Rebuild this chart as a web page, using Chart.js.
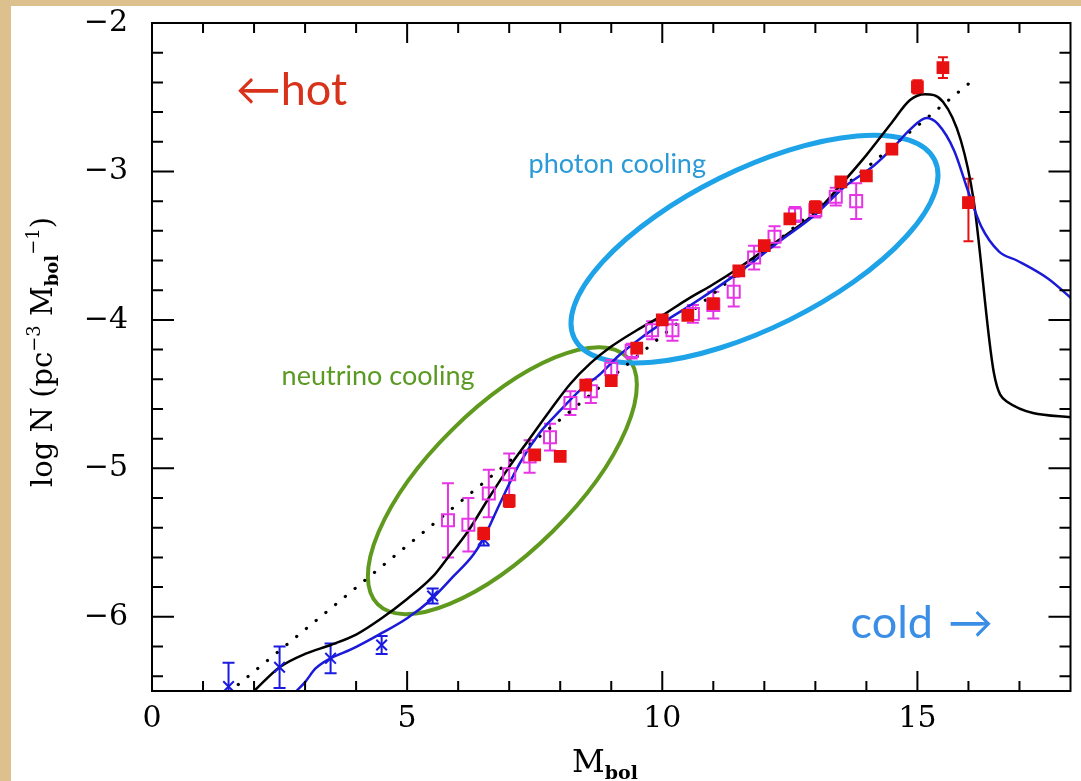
<!DOCTYPE html>
<html><head><meta charset="utf-8">
<script src="https://cdn.jsdelivr.net/npm/chart.js@4.4.0/dist/chart.umd.min.js"></script>
<style>
html,body{margin:0;padding:0;background:#dcc08e;width:1081px;height:781px;overflow:hidden;}
#wrap{position:absolute;left:11px;top:6px;width:1070px;height:775px;background:#fff;}
canvas{display:block;}
</style></head><body>
<div id="wrap"><canvas id="c"></canvas></div>
<script>
// ---- data (M_bol, log N) ----
const redM     = [6.5,7.0,7.5,8.0,8.5,9.0,9.5,10.0,10.5,11.0,11.5,12.0,12.5,13.0,13.5,14.0,14.5,15.0,15.5,16.0];
const redLogN  = [-5.44,-5.22,-4.91,-4.92,-4.44,-4.41,-4.19,-4.00,-3.97,-3.89,-3.67,-3.50,-3.32,-3.24,-3.07,-3.03,-2.85,-2.43,-2.30,-3.21];
const redErrLo = [0.04,0.04,0.03,0.02,0.03,0.03,0.03,0.03,0.03,0.03,0.03,0.03,0.03,0.04,0.03,0.03,0.03,0.045,0.07,0.26];
const redErrHi = [0.04,0.04,0.03,0.02,0.03,0.03,0.03,0.03,0.03,0.03,0.03,0.03,0.03,0.04,0.03,0.03,0.03,0.045,0.07,0.16];

const magM    = [5.8,6.2,6.6,7.0,7.4,7.8,8.2,8.6,9.0,9.4,9.8,10.2,10.6,11.0,11.4,11.8,12.2,12.6,13.0,13.4,13.8];
const magLogN = [-5.35,-5.38,-5.17,-5.04,-4.92,-4.79,-4.56,-4.48,-4.33,-4.21,-4.07,-4.07,-3.96,-3.90,-3.81,-3.58,-3.44,-3.29,-3.26,-3.17,-3.20];
const magErr  = [0.25,0.18,0.16,0.14,0.11,0.09,0.08,0.08,0.06,0.05,0.06,0.07,0.06,0.09,0.10,0.08,0.07,0.05,0.05,0.06,0.12];

const bluePtM    = [1.5,2.5,3.5,4.5,5.5,6.5];
const bluePtLogN = [-6.47,-6.34,-6.28,-6.19,-5.86,-5.48];
const bluePtErr  = [0.16,0.14,0.10,0.06,0.05,0.04];

const blackM    = [2.0,2.5,3.0,3.5,4.0,4.5,5.0,5.5,5.8,6.2,6.6,7.0,7.4,7.8,8.2,8.6,9.0,9.5,10.0,10.5,11.0,11.5,12.0,12.5,13.0,13.5,14.0,14.5,14.85,15.15,15.5,15.85,16.1,16.5,16.75,18.1];
const blackLogN = [-6.50,-6.34,-6.25,-6.19,-6.12,-6.01,-5.88,-5.73,-5.60,-5.42,-5.20,-4.99,-4.80,-4.61,-4.43,-4.29,-4.18,-4.07,-3.97,-3.86,-3.76,-3.65,-3.53,-3.41,-3.28,-3.09,-2.89,-2.67,-2.52,-2.48,-2.53,-2.79,-3.19,-4.36,-4.55,-4.66];

const blueLineM    = [2.83,3.0,3.2,3.5,3.9,4.45,5.0,5.45,5.9,6.3,6.5,6.8,7.2,7.6,8.0,8.4,8.8,9.15,9.55,10.05,10.65,11.5,12.3,13.0,13.55,14.15,14.55,14.85,15.18,15.4,15.72,16.0,16.25,16.6,16.95,17.55,18.1];
const blueLineLogN = [-6.50,-6.44,-6.35,-6.28,-6.22,-6.12,-6.01,-5.89,-5.73,-5.58,-5.47,-5.25,-4.97,-4.76,-4.61,-4.47,-4.36,-4.24,-4.13,-4.01,-3.88,-3.68,-3.47,-3.29,-3.11,-2.96,-2.83,-2.72,-2.64,-2.68,-2.86,-3.14,-3.37,-3.54,-3.60,-3.72,-3.88];

const dotM    = [1.5,16.0];
const dotLogN = [-6.51,-2.41];

const xTickValues = [0,5,10,15];
const yTickValues = [-6,-5,-4,-3,-2];

// ---- helpers ----
const pts = (xs, ys) => xs.map((v,i)=>({x:v, y:ys[i]}));

const ellipses = [
  {m:6.866, n:-5.083, rx:175.5, ry:71.5, rot:-44.7, color:'#5f9a1f', lw:4},
  {m:11.807, n:-3.523, rx:201, ry:79, rot:-26.35, color:'#1ea3e8', lw:5}
];
const errSets = [
  {xs:magM, ys:magLogN, lo:magErr, hi:magErr, color:'#e535e5', cap:6, lw:2},
  {xs:bluePtM, ys:bluePtLogN, lo:bluePtErr, hi:bluePtErr, color:'#1a1ae0', cap:6, lw:2},
  {xs:redM, ys:redLogN, lo:redErrLo, hi:redErrHi, color:'#e81010', cap:5, lw:2}
];
const notes = [
  {t:'\u2190hot', m:1.64, n:-2.553, font:'45px Lato', color:'#d8321a'},
  {t:'photon cooling', m:7.38, n:-3.01, font:'27px Lato', color:'#2a9ad8'},
  {t:'neutrino cooling', m:2.54, n:-4.44, font:'27px Lato', color:'#5a9a22'},
  {t:'cold', m:13.69, n:-6.14, font:'45px Lato', color:'#3a8ee6'},
  {t:'\u2192', m:15.6, n:-6.14, font:'45px Lato', color:'#3a8ee6'}
];

function drawRich(ctx, parts, cx, y){
  let w = 0;
  parts.forEach(p=>{ctx.font=p.f; p.w=ctx.measureText(p.t).width; w+=p.w;});
  let x = cx - w/2;
  parts.forEach(p=>{ctx.font=p.f; ctx.fillText(p.t, x, y+p.dy); x+=p.w;});
}

const deco = {
  id:'deco',
  beforeDatasetsDraw(chart){
    const {ctx, chartArea:a, scales:{x,y}} = chart;
    ctx.save();
    ctx.beginPath(); ctx.rect(a.left,a.top,a.right-a.left,a.bottom-a.top); ctx.clip();
    ellipses.forEach(e=>{
      ctx.beginPath();
      ctx.ellipse(x.getPixelForValue(e.m), y.getPixelForValue(e.n), e.rx, e.ry, e.rot*Math.PI/180, 0, 2*Math.PI);
      ctx.strokeStyle=e.color; ctx.lineWidth=e.lw; ctx.stroke();
    });
    errSets.forEach(s=>{
      ctx.strokeStyle=s.color; ctx.lineWidth=s.lw;
      s.xs.forEach((m,i)=>{
        const px=x.getPixelForValue(m);
        const y1=y.getPixelForValue(s.ys[i]+s.hi[i]);
        const y2=y.getPixelForValue(s.ys[i]-s.lo[i]);
        ctx.beginPath();
        ctx.moveTo(px,y1); ctx.lineTo(px,y2);
        ctx.moveTo(px-s.cap,y1); ctx.lineTo(px+s.cap,y1);
        ctx.moveTo(px-s.cap,y2); ctx.lineTo(px+s.cap,y2);
        ctx.stroke();
      });
    });
    ctx.restore();
  },
  afterDraw(chart){
    const {ctx, chartArea:a, scales:{x,y}} = chart;
    ctx.save();
    ctx.strokeStyle='#000'; ctx.lineWidth=2;
    ctx.strokeRect(a.left,a.top,a.right-a.left,a.bottom-a.top);
    ctx.beginPath();
    for(let v=1; v<18; v++){
      const px=x.getPixelForValue(v), L=(v%5===0)?20:10;
      ctx.moveTo(px,a.bottom); ctx.lineTo(px,a.bottom-L);
      ctx.moveTo(px,a.top); ctx.lineTo(px,a.top+L);
    }
    for(let k=1; k<=22; k++){
      const vv=Math.round((-6.4+0.2*(k-1))*10)/10;
      const major=Math.abs(vv-Math.round(vv))<1e-6;
      const py=y.getPixelForValue(vv), L=major?22:11;
      ctx.moveTo(a.left,py); ctx.lineTo(a.left+L,py);
      ctx.moveTo(a.right,py); ctx.lineTo(a.right-L,py);
    }
    ctx.stroke();
    // annotation texts
    ctx.textBaseline='alphabetic'; ctx.textAlign='left';
    notes.forEach(nt=>{
      ctx.font=nt.font; ctx.fillStyle=nt.color;
      ctx.fillText(nt.t, x.getPixelForValue(nt.m), y.getPixelForValue(nt.n));
    });
    // axis titles
    ctx.fillStyle='#000';
    const F='"DejaVu Serif"';
    ctx.save();
    ctx.translate(41, 346); ctx.rotate(-Math.PI/2);
    drawRich(ctx, [
      {t:'log N (pc', f:'29px '+F, dy:0},
      {t:'\u22123', f:'18px '+F, dy:-12},
      {t:' M', f:'29px '+F, dy:0},
      {t:'bol', f:'bold 18px '+F, dy:6},
      {t:'\u22121', f:'18px '+F, dy:-13},
      {t:')', f:'29px '+F, dy:0}
    ], 0, 0);
    ctx.restore();
    drawRich(ctx, [
      {t:'M', f:'32px '+F, dy:0},
      {t:'bol', f:'bold 19px '+F, dy:7}
    ], 594, 766);
    ctx.restore();
  }
};

const zeroPad = s => { s.paddingTop=0; s.paddingBottom=0; s.paddingLeft=0; s.paddingRight=0; };

new Chart(document.getElementById('c'), {
  type:'scatter',
  data:{datasets:[
    {label:'red', data:pts(redM,redLogN), order:0, pointStyle:'rect', pointRadius:9, backgroundColor:'#e81010', borderWidth:0},
    {label:'magenta', data:pts(magM,magLogN), order:1, pointStyle:'rect', pointRadius:8.5, backgroundColor:'rgba(0,0,0,0)', borderColor:'#e535e5', borderWidth:2},
    {label:'bluepts', data:pts(bluePtM,bluePtLogN), order:2, pointStyle:'crossRot', pointRadius:7.5, borderColor:'#1a1ae0', borderWidth:2},
    {label:'blueline', data:pts(blueLineM,blueLineLogN), order:3, showLine:true, pointRadius:0, borderColor:'#1a1ad8', borderWidth:2.5, cubicInterpolationMode:'monotone'},
    {label:'black', data:pts(blackM,blackLogN), order:4, showLine:true, pointRadius:0, borderColor:'#000', borderWidth:2.5, cubicInterpolationMode:'monotone'},
    {label:'dotted', data:pts(dotM,dotLogN), order:5, showLine:true, pointRadius:0, borderColor:'#000', borderWidth:3.2, borderDash:[0.1,12.5], borderCapStyle:'round'}
  ]},
  options:{
    responsive:true, maintainAspectRatio:false, animation:false, events:[],
    layout:{padding:{top:17,right:5,left:0,bottom:0}},
    plugins:{legend:{display:false}, tooltip:{enabled:false}},
    scales:{
      x:{type:'linear', min:0, max:18,
        afterBuildTicks:s=>{s.ticks=xTickValues.map(v=>({value:v}));},
        afterFit:s=>{s.height=90; zeroPad(s);},
        ticks:{font:{family:'DejaVu Serif', size:30}, color:'#000', padding:10, maxRotation:0, autoSkip:false, callback:v=>String(v)},
        grid:{display:false, drawTicks:false}, border:{display:false}},
      y:{type:'linear', min:-6.5, max:-2,
        afterBuildTicks:s=>{s.ticks=yTickValues.map(v=>({value:v}));},
        afterFit:s=>{s.width=141; zeroPad(s);},
        ticks:{font:{family:'DejaVu Serif', size:30}, color:'#000', padding:24, autoSkip:false, callback:v=>'\u2212'+Math.abs(v)},
        grid:{display:false, drawTicks:false}, border:{display:false}}
    }
  },
  plugins:[deco]
});
</script>
</body></html>
